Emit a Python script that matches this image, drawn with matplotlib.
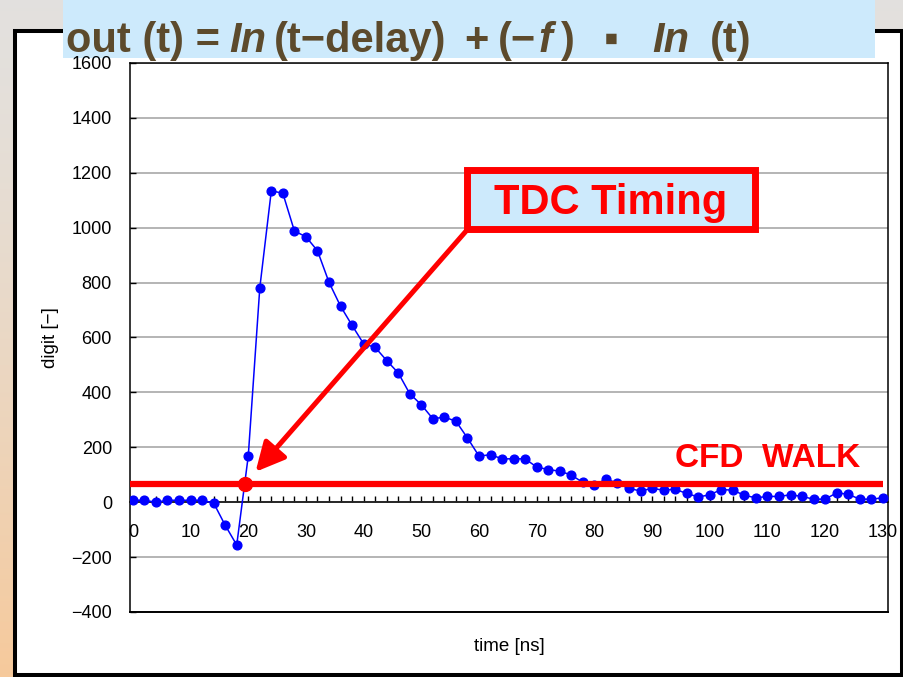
import numpy as np
import matplotlib
matplotlib.use("Agg")
import matplotlib.pyplot as plt
from matplotlib.patches import Rectangle

plt.rcParams['font.family'] = ['Liberation Sans', 'DejaVu Sans']

# sampled CFD output (2 ns steps)
time_ns = np.arange(0, 131, 2)
digit = [7, 7, 0, 7, 7, 7, 7, -3, -84, -156,
         168, 781, 1135, 1125, 988, 967, 916, 801, 714, 644,
         577, 564, 516, 471, 395, 355, 304, 310, 295, 234,
         168, 173, 158, 158, 158, 128, 119, 113, 99, 72,
         62, 84, 70, 50, 41, 50, 44, 47, 32, 19,
         27, 46, 44, 25, 16, 21, 21, 27, 21, 11,
         11, 34, 29, 11, 11, 16]
cfd_level = 65
yticks = np.arange(-400, 1601, 200)
xticks = np.arange(0, 131, 10)

# formula pieces: (text, left pixel, italic)
title_parts = [("out (t) =", 66, False), ("In", 229, True), ("(t−delay)", 274, False),
               ("+", 464, False), ("(−", 498, False), ("f", 539, True), (")", 561, False),
               ("▪", 604, False), ("In", 652, True), ("(t)", 710, False)]

W, H = 904, 677
fig = plt.figure(figsize=(W / 100, H / 100), dpi=100)

def fx(px):
    return px / W

def fy(py):
    return 1 - py / H

# background gradient
bg = fig.add_axes([0, 0, 1, 1], zorder=-20)
top = np.array([0.890, 0.882, 0.871])
bot = np.array([0.965, 0.790, 0.610])
s = np.linspace(0, 1, 256) ** 1.4
grad = top[None, :] * (1 - s[:, None]) + bot[None, :] * s[:, None]
bg.imshow(grad[:, None, :], aspect='auto', extent=[0, 1, 0, 1])
bg.axis('off')

# white panel
fig.add_artist(Rectangle((fx(14.7), fy(675)), fx(902.5 - 14.7), (675 - 31.3) / H,
                         transform=fig.transFigure, facecolor='white',
                         edgecolor='black', lw=2.9, zorder=-10))
# title band
fig.add_artist(Rectangle((fx(63), fy(58)), fx(875 - 63), 58 / H,
                         transform=fig.transFigure, facecolor='#cdeafc',
                         edgecolor='none', zorder=-9))
for txt, px, it in title_parts:
    fig.text(fx(px), fy(52), txt, fontsize=30, fontweight='bold', color='#5c4a2c',
             fontstyle='italic' if it else 'normal', va='baseline', ha='left', zorder=-8)

ax = fig.add_axes([fx(130), fy(612), fx(888 - 130), (612 - 63) / H])
ax.set_xlim(-0.5, 130.9)
ax.set_ylim(-400, 1600)

ax.set_yticks(yticks)
ax.set_xticks(xticks)
ax.set_xticks(time_ns, minor=True)
ax.grid(axis='y', color='#a8a8a8', lw=1.2)
ax.set_axisbelow(True)

for sp in ['top', 'left', 'right']:
    ax.spines[sp].set_linewidth(1.1)
ax.spines['bottom'].set_position(('data', 0))
ax.spines['bottom'].set_linewidth(1.1)
ax.plot([0, 1], [0, 0], transform=ax.transAxes, color='black', lw=1.4, clip_on=False)

ax.tick_params(axis='y', direction='in', length=4, width=1, pad=13, labelsize=13)
ax.tick_params(axis='x', which='both', direction='in', length=4, width=1,
               pad=16, labelsize=13)

ax.set_xlabel('time [ns]', fontsize=13.5)
ax.xaxis.set_label_coords(0.5, -0.047)
ax.set_ylabel('digit [−]', fontsize=13.5)
ax.yaxis.set_label_coords(-0.094, 0.5)

ax.plot(time_ns, digit, color='#0000ff', lw=1.1, marker='o', markersize=6.3, zorder=3)

# CFD threshold and the crossing point
ax.hlines(cfd_level, ax.get_xlim()[0], time_ns[-1], color='#ff0000', lw=4.5, zorder=4)
v = np.array(digit)
i = np.where((v[:-1] < cfd_level) & (v[1:] >= cfd_level))[0][0]
t_cross = time_ns[i] + (cfd_level - v[i]) * (time_ns[i + 1] - time_ns[i]) / (v[i + 1] - v[i])
ax.plot(t_cross, cfd_level, 'o', color='#ff0000', markersize=10, zorder=5)
ax.text(94, 128, 'CFD  WALK', color='#ff0000', fontsize=24, fontweight='bold',
        ha='left', va='baseline')

ax.annotate('', xy=(t_cross, cfd_level), xytext=(fx(467), fy(230)),
            textcoords='figure fraction',
            arrowprops=dict(arrowstyle='-|>,head_length=0.8,head_width=0.4',
                            color='#ff0000', lw=3.6, mutation_scale=22,
                            shrinkA=0, shrinkB=12), zorder=6)

# TDC box
fig.add_artist(Rectangle((fx(467), fy(229)), fx(755 - 467), (229 - 170) / H,
                         transform=fig.transFigure, facecolor='#cdeafc',
                         edgecolor='#ff0000', lw=5, zorder=5))
fig.text(fx(611), fy(203), 'TDC Timing', color='#ff0000', fontsize=30,
         fontweight='bold', ha='center', va='center', zorder=6)

fig.savefig('out.png', dpi=100)
